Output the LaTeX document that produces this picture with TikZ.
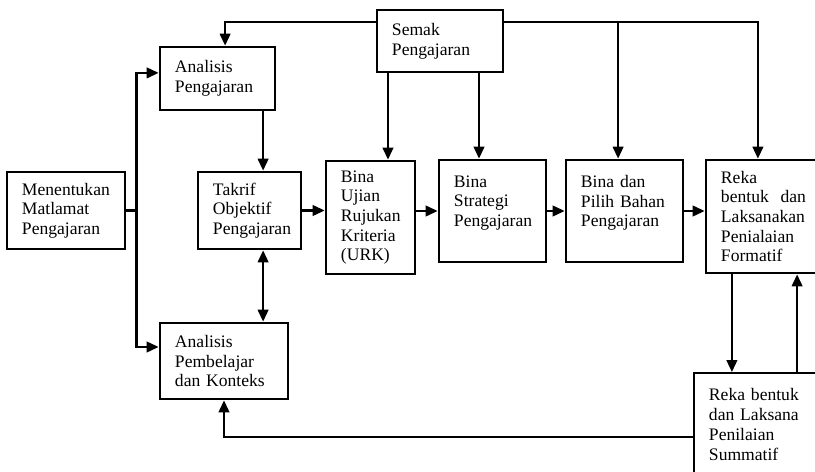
\documentclass[tikz,border=0pt]{standalone}
\usepackage{fontspec}
\setmainfont{Liberation Serif}
\usetikzlibrary{arrows.meta,calc}

\begin{document}
\begin{tikzpicture}[
  x=0.025cm, y=-0.025cm,
  box/.style={draw,line width=1.8pt,inner xsep=0.375cm,inner ysep=0pt,align=left,font=\fontsize{12.5}{14}\selectfont},
  thinbox/.style={box,line width=1.2pt},
  arrow/.style={-{Triangle[length=0.3cm,width=0.26cm]},line width=1.8pt},
  dblarrow/.style={{Triangle[length=0.3cm,width=0.26cm]}-{Triangle[length=0.3cm,width=0.26cm]},line width=1.8pt}
]
\useasboundingbox (0,0) rectangle (815,472);
\clip (0,0) rectangle (815,472);

% boxes
\node[box,minimum width=2.95cm,minimum height=1.925cm,text width=2.2cm] (goal) at (66,210.5) {Menentukan\\Matlamat\\Pengajaran};
\node[box,minimum width=2.875cm,minimum height=1.575cm,text width=2.125cm] (anaP) at (217.5,78.5) {Analisis\\Pengajaran};
\node[box,minimum width=2.575cm,minimum height=1.925cm,text width=1.825cm] (takrif) at (249.5,210.5) {Takrif\\Objektif\\Pengajaran};
\node[box,minimum width=2.225cm,minimum height=2.825cm,text width=1.475cm] (urk) at (370.5,217.5) {Bina\\Ujian\\Rujukan\\Kriteria\\(URK)};
\node[thinbox,minimum width=3.15cm,minimum height=1.55cm,text width=2.4cm] (semak) at (440,41) {Semak\\Pengajaran};
\node[box,minimum width=2.675cm,minimum height=2.55cm,text width=1.925cm] (strat) at (492.5,211) {Bina\\Strategi\\Pengajaran\\\mbox{}};
\node[box,minimum width=2.925cm,minimum height=2.55cm,text width=2.175cm] (bahan) at (624.5,211) {Bina dan\\Pilih Bahan\\Pengajaran\\\mbox{}};
\node[box,minimum width=2.975cm,minimum height=2.825cm,text width=2.225cm] (formatif) at (765.5,216.5) {Reka\\bentuk\ \ dan\\Laksanakan\\Penialaian\\Formatif};
\node[box,minimum width=3.2cm,minimum height=1.9cm,text width=2.45cm] (pemb) at (224,361) {Analisis\\Pembelajar\\dan Konteks};
\node[thinbox,minimum width=3.4cm,minimum height=2.575cm,text width=2.65cm] (summ) at (762,424.5) {Reka bentuk\\dan Laksana\\Penilaian\\Summatif};

% helper points
\coordinate (top) at ([yshift=0.475cm]semak.east);
\coordinate (tk) at ([xshift=0.34cm]takrif.north);
\coordinate (s1) at ([xshift=-1.3cm]semak.south);
\coordinate (s2) at ([xshift=0.975cm]semak.south);
\coordinate (b1) at ([xshift=-0.16cm]bahan.north);
\coordinate (f1) at ([xshift=-0.84cm]formatif.south);
\coordinate (f2) at ([xshift=0.79cm]formatif.south);

% connectors
\draw[arrow] ([yshift=0.475cm]semak.west) -| ([xshift=0.19cm]anaP.north);
\draw[arrow] (goal.east) -- ++(0.25cm,0) |- ([yshift=0.14cm]anaP.west);
\draw[arrow] (goal.east) -- ++(0.25cm,0) |- ([yshift=0.35cm]pemb.west);
\draw[arrow] (anaP.south -| tk) -- (tk);
\draw[dblarrow] (takrif.south -| tk) -- (pemb.north -| tk);
\draw[arrow] (takrif.east) -- (takrif.east -| urk.west);
\draw[arrow] (urk.east |- strat.west) -- (strat.west);
\draw[arrow] (strat.east) -- (bahan.west);
\draw[arrow] (bahan.east) -- (bahan.east -| formatif.west);
\draw[arrow] (s1) -- (s1 |- urk.north);
\draw[arrow] (s2) -- (s2 |- strat.north);
\draw[arrow] (top) -| ([xshift=-0.19cm]formatif.north);
\draw[arrow] (top -| b1) -- (b1);
\draw[arrow] (f1) -- (f1 |- summ.north);
\draw[arrow] (f2 |- summ.north) -- (f2);
\draw[arrow] ([yshift=-0.31cm]summ.west) -| (pemb.south);
\end{tikzpicture}
\end{document}
